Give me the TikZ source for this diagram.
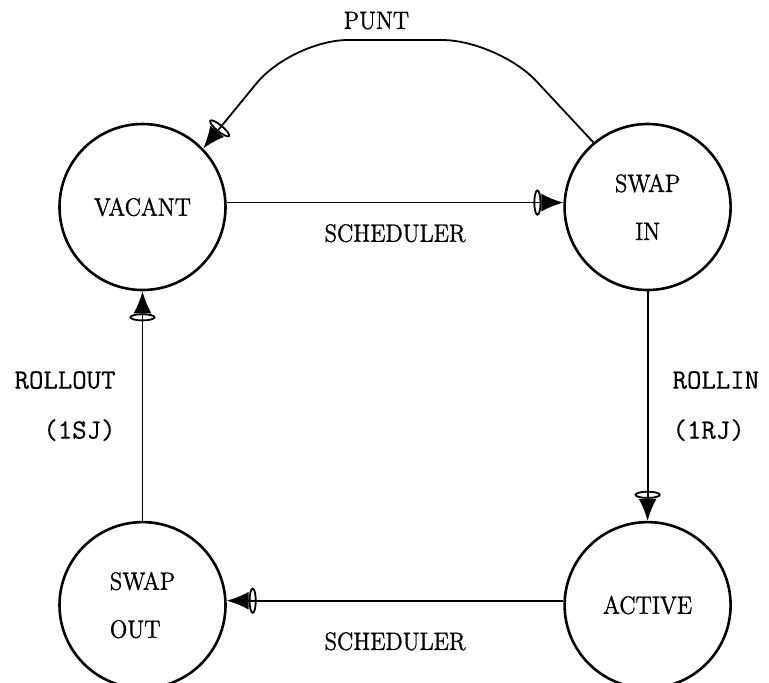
\documentclass[tikz,border=0pt]{standalone}
\usepackage{fontspec}
\usetikzlibrary{arrows.meta,positioning}
\newfontfamily\heavyrm{Latin Modern Roman}[FakeBold=1.2,FakeStretch=0.92]
\newfontfamily\heavytt{Latin Modern Mono}[FakeBold=0.4]
\newcommand{\stfont}{\heavyrm\fontsize{12.5}{24}\selectfont}
\newcommand{\jobfont}{\heavytt\fontsize{14}{25}\selectfont}

\begin{document}
\begin{tikzpicture}[
  state/.style={circle,draw,line width=1.3pt,minimum size=83pt,inner sep=0pt,
                align=center,font=\stfont},
  flow/.style={line width=0.9pt,
               -{Ellipse[open,length=4pt,width=13pt]Latex[length=11pt,width=9pt]}},
  font=\stfont]

\useasboundingbox (-71.25pt,103.5pt) rectangle (313.25pt,-237.5pt);

\node[state] (vacant) at (0,0) {VACANT};
\node[state,right=168.25pt of vacant] (swapin) {SWAP\\IN};
\node[state,below=114.75pt of vacant,align=left] (swapout) {SWAP\\OUT};
\node[state,below=114.75pt of swapin] (active) {ACTIVE};

% corners of the punt path
\coordinate (puntR) at ([shift={(177.75pt,83.5pt)}]vacant.center);
\coordinate (puntL) at ([shift={(74.75pt,83.5pt)}]vacant.center);

\draw[flow] (vacant.3) -- node[below=7pt]{SCHEDULER} (swapin.177);
\draw[flow] (active.177) -- node[below=12pt]{SCHEDULER} (swapout.3);
\draw[flow] (swapin.south) -- node[right=8.7pt,align=left,font=\jobfont]{ROLLIN\\(1RJ)} (active.north);
\draw[flow] (swapout.north) -- node[left=9.7pt,align=right,font=\jobfont]{ROLLOUT\\(1SJ)} (vacant.south);
\draw[flow,rounded corners=28pt] (swapin.130) -- (puntR)
  -- node[pos=0.59,above=1.5pt]{PUNT} (puntL) -- (vacant.44);
\end{tikzpicture}
\end{document}
